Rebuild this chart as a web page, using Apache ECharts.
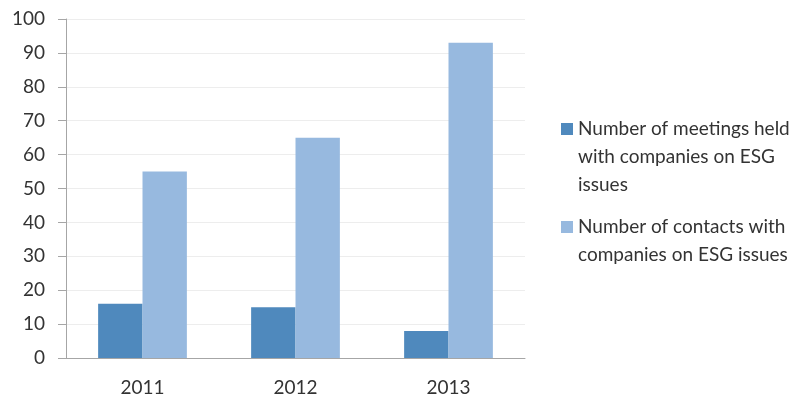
<!DOCTYPE html>
<html>
<head>
<meta charset="utf-8">
<script src="https://cdn.jsdelivr.net/npm/echarts@6/dist/echarts.min.js"></script>
<style>
  html, body { margin: 0; padding: 0; background: #fff; }
  #chart { width: 800px; height: 403px; }
</style>
</head>
<body>
<div id="chart"></div>
<script>
// 数据
const years = ["2011", "2012", "2013"];
const meetings = [16, 15, 8];
const contacts = [55, 65, 93];
const seriesNames = [
  "Number of meetings held with companies on ESG issues",
  "Number of contacts with companies on ESG issues"
];
// legend 换行 (图标对齐第一行)
const legendLines = {
  [seriesNames[0]]: ["Number of meetings held", "with companies on ESG", "issues"],
  [seriesNames[1]]: ["Number of contacts with", "companies on ESG issues"]
};
const legendText = (name) => {
  const lines = legendLines[name];
  return "\n".repeat(lines.length - 1) + lines.join("\n");
};

const font = "Lato";
const mycharts = echarts.init(document.getElementById("chart"));
const options = {
  animation: false,
  grid: { left: 66, right: 275, top: 19, bottom: 45 },
  legend: {
    orient: "vertical",
    left: 561,
    top: 59,
    padding: 0,
    itemGap: -14,
    itemWidth: 12,
    itemHeight: 12,
    icon: "rect",
    formatter: legendText,
    textStyle: { fontFamily: font, fontSize: 19, color: "#333", lineHeight: 28 },
    data: seriesNames
  },
  xAxis: {
    type: "category",
    data: years,
    axisLine: { lineStyle: { color: "#a6a6a6", width: 1 } },
    axisTick: { length: 6, lineStyle: { color: "#a6a6a6" } },
    axisLabel: { fontFamily: font, fontSize: 19, color: "#333", margin: 20 }
  },
  yAxis: {
    type: "value",
    min: 0,
    max: 100,
    interval: 10,
    axisLine: { show: true, lineStyle: { color: "#a6a6a6", width: 1 } },
    axisTick: { show: true, length: 8, lineStyle: { color: "#a6a6a6" } },
    splitLine: { lineStyle: { color: "#ededed" } },
    axisLabel: { fontFamily: font, fontSize: 19, color: "#333", margin: 21 }
  },
  series: [
    {
      name: seriesNames[0],
      type: "bar",
      data: meetings,
      barWidth: "29%",
      barGap: "0%",
      itemStyle: { color: "#4f89bd" }
    },
    {
      name: seriesNames[1],
      type: "bar",
      data: contacts,
      barWidth: "29%",
      itemStyle: { color: "#97b9df" }
    }
  ]
};
mycharts.setOption(options);
</script>
</body>
</html>
